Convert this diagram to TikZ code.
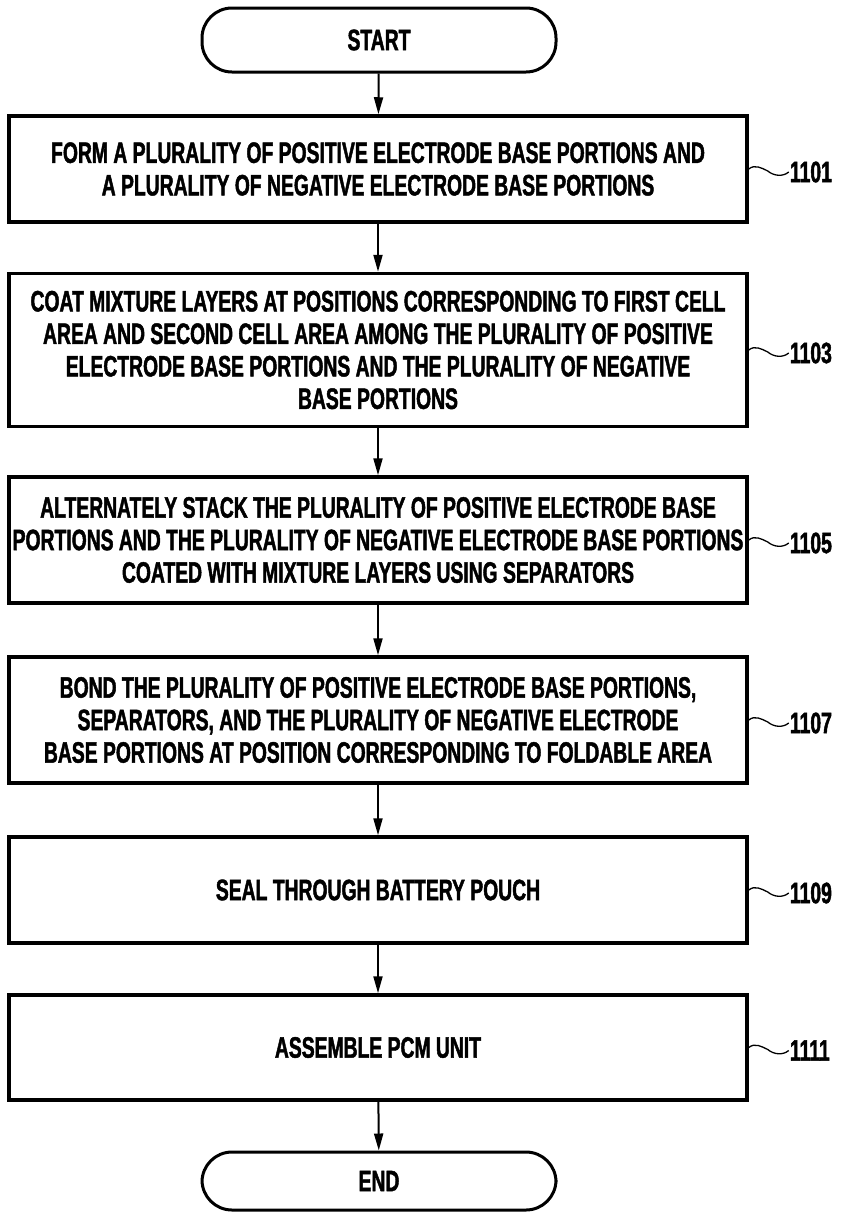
\documentclass[tikz,border=0pt]{standalone}
\usepackage{fontspec}
\newfontfamily\cond{Liberation Sans}[FakeStretch=0.655,BoldFeatures={FakeBold=1.5}]
\usetikzlibrary{arrows.meta,calc}
\begin{document}
\begin{tikzpicture}[x=1pt,y=1pt,
  txt/.style={font=\cond\bfseries\fontsize{29.5}{32.5}\selectfont},
  stepbox/.style={txt,draw,line width=3.5pt,minimum width=738pt,inner sep=0pt,align=center},
  term/.style={txt,draw,line width=3pt,minimum width=354pt,rounded corners=30pt,inner sep=0pt},
  flow/.style={line width=2pt,-{Triangle[length=17pt,width=9pt]}},
  lead/.style={line width=1.3pt},
  refnum/.style={txt,anchor=west,inner sep=1pt}]
\useasboundingbox (0,0) rectangle (844,-1213);
\node[term,minimum height=64pt] (s) at (379,-40) {START};
\node[stepbox,minimum height=106pt] (b1) at (378,-169) {FORM A PLURALITY OF POSITIVE ELECTRODE BASE PORTIONS AND\\A PLURALITY OF NEGATIVE ELECTRODE BASE PORTIONS};
\node[stepbox,minimum height=153pt] (b2) at (378,-350) {COAT MIXTURE LAYERS AT POSITIONS CORRESPONDING TO FIRST CELL\\AREA AND SECOND CELL AREA AMONG THE PLURALITY OF POSITIVE\\ELECTRODE BASE PORTIONS AND THE PLURALITY OF NEGATIVE\\BASE PORTIONS};
\node[stepbox,minimum height=126pt] (b3) at (378,-540) {ALTERNATELY STACK THE PLURALITY OF POSITIVE ELECTRODE BASE\\PORTIONS AND THE PLURALITY OF NEGATIVE ELECTRODE BASE PORTIONS\\COATED WITH MIXTURE LAYERS USING SEPARATORS};
\node[stepbox,minimum height=126pt] (b4) at (378,-720) {BOND THE PLURALITY OF POSITIVE ELECTRODE BASE PORTIONS,\\SEPARATORS, AND THE PLURALITY OF NEGATIVE ELECTRODE\\BASE PORTIONS AT POSITION CORRESPONDING TO FOLDABLE AREA};
\node[stepbox,minimum height=106pt] (b5) at (378,-890) {SEAL THROUGH BATTERY POUCH};
\node[stepbox,minimum height=105pt] (b6) at (378,-1047.5) {ASSEMBLE PCM UNIT};
\node[term,minimum height=58pt] (e) at (379,-1181) {END};
\draw[flow] (s) -- (b1);
\draw[flow] (b1) -- (b2);
\draw[flow] (b2) -- (b3);
\draw[flow] (b3) -- (b4);
\draw[flow] (b4) -- (b5);
\draw[flow] (b5) -- (b6);
\draw[flow] (b6) -- (e);
\foreach \b/\n in {b1/1101,b2/1103,b3/1105,b4/1107,b5/1109,b6/1111}{
  \node[refnum] (l\b) at ($(\b.east)+(40,-3)$) {\n};
  \draw[lead] (\b.east) .. controls +(6,5) and +(-6,3) .. ++(19,-2) .. controls +(6,-5) and +(-6,-5) .. (l\b.west);
}
\end{tikzpicture}
\end{document}
